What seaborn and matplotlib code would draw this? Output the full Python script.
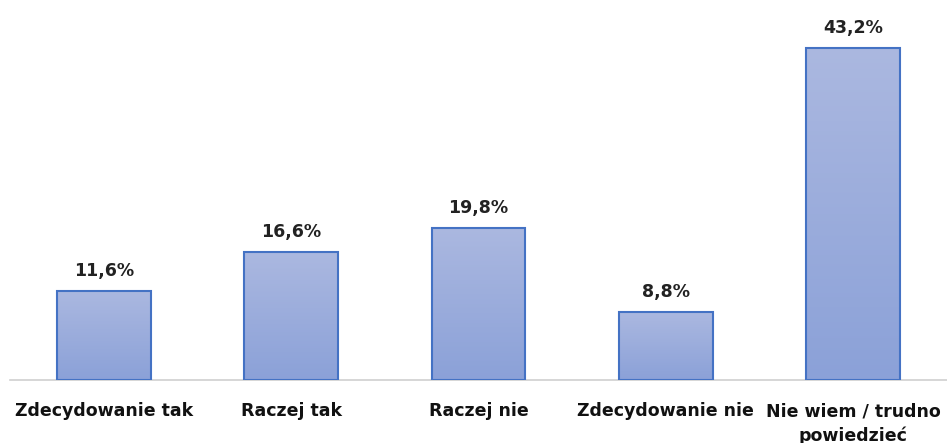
import numpy as np
import pandas as pd
import matplotlib
matplotlib.use("Agg")
import matplotlib.pyplot as plt
from matplotlib.colors import LinearSegmentedColormap
import seaborn as sns

categories = ["Zdecydowanie tak", "Raczej tak", "Raczej nie", "Zdecydowanie nie", "Nie wiem / trudno\npowiedzieć"]
values = [11.6, 16.6, 19.8, 8.8, 43.2]
labels = ["11,6%", "16,6%", "19,8%", "8,8%", "43,2%"]

df = pd.DataFrame({"cat": categories, "val": values})

sns.set_theme(style="white")
plt.rcParams["font.family"] = ["DejaVu Sans"]

fig = plt.figure(figsize=(9.47, 4.43), dpi=100)
ax = fig.add_axes([10 / 947, 63 / 443, 1 - 10 / 947, 345.8 / 443])

sns.barplot(data=df, x="cat", y="val", ax=ax, width=0.5, color="#9aabdc",
            edgecolor="#4472c4", linewidth=1.5)

# gradient fill, light on top and darker towards the base
cmap = LinearSegmentedColormap.from_list("g", ["#8ba1d8", "#abb8e0"])
grad = np.linspace(0, 1, 256).reshape(-1, 1)
for p in ax.patches:
    x0, y0 = p.get_x(), p.get_y()
    w, h = p.get_width(), p.get_height()
    im = ax.imshow(grad, cmap=cmap, aspect="auto", origin="lower",
                   extent=[x0, x0 + w, y0, y0 + h], zorder=p.get_zorder() - 0.1)
    im.set_clip_path(p)
    p.set_facecolor("none")
    p.set_zorder(3)

for i, (v, lab) in enumerate(zip(values, labels)):
    ax.annotate(lab, (i, v), xytext=(0, 8), textcoords="offset points",
                ha="center", va="bottom", fontsize=12.5, fontweight="bold", color="#222222")

ax.set_xlim(-0.5, 4.5)
ax.set_ylim(0, 45)
ax.set_xlabel("")
ax.set_ylabel("")
ax.set_yticks([])
for s in ["top", "right", "left"]:
    ax.spines[s].set_visible(False)
ax.spines["bottom"].set_color("#d0d0d0")
ax.spines["bottom"].set_linewidth(1.2)
ax.tick_params(axis="x", length=0, pad=16)
for t in ax.get_xticklabels():
    t.set_fontsize(12.5)
    t.set_fontweight("bold")
    t.set_color("#111111")
    t.set_verticalalignment("top")
    t.set_linespacing(1.45)

fig.savefig("out.png", dpi=100)
